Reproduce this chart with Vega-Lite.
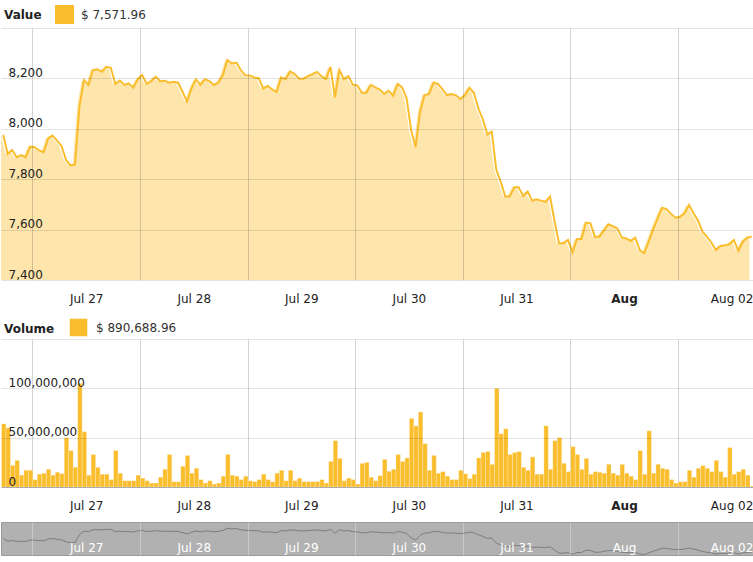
{
  "$schema": "https://vega.github.io/schema/vega-lite/v6.json",
  "padding": {"left": 0, "top": 5, "right": 0, "bottom": 0},
  "background": "white",
  "config": {
    "font": "DejaVu Sans",
    "view": {"stroke": null},
    "axis": {"labelFont": "DejaVu Sans", "labelFontSize": 12, "labelColor": "#222", "title": null},
    "legend": {"labelFont": "DejaVu Sans", "titleFont": "DejaVu Sans"}
  },
  "data": {"values": [
    {"t":"2018-07-26T17:00Z","p":7975,"v":64000000},
    {"t":"2018-07-26T18:00Z","p":7900,"v":60000000},
    {"t":"2018-07-26T19:00Z","p":7916,"v":22000000},
    {"t":"2018-07-26T20:00Z","p":7887,"v":27000000},
    {"t":"2018-07-26T21:00Z","p":7896,"v":12000000},
    {"t":"2018-07-26T22:00Z","p":7887,"v":17000000},
    {"t":"2018-07-26T23:00Z","p":7929,"v":17000000},
    {"t":"2018-07-27T00:00Z","p":7927,"v":7500000},
    {"t":"2018-07-27T01:00Z","p":7914,"v":13000000},
    {"t":"2018-07-27T02:00Z","p":7907,"v":14000000},
    {"t":"2018-07-27T03:00Z","p":7962,"v":18000000},
    {"t":"2018-07-27T04:00Z","p":7973,"v":12000000},
    {"t":"2018-07-27T05:00Z","p":7953,"v":15000000},
    {"t":"2018-07-27T06:00Z","p":7932,"v":13500000},
    {"t":"2018-07-27T07:00Z","p":7877,"v":50000000},
    {"t":"2018-07-27T08:00Z","p":7855,"v":37000000},
    {"t":"2018-07-27T09:00Z","p":7858,"v":20000000},
    {"t":"2018-07-27T10:00Z","p":8088,"v":105000000},
    {"t":"2018-07-27T11:00Z","p":8193,"v":56000000},
    {"t":"2018-07-27T12:00Z","p":8174,"v":12000000},
    {"t":"2018-07-27T13:00Z","p":8233,"v":33000000},
    {"t":"2018-07-27T14:00Z","p":8236,"v":20000000},
    {"t":"2018-07-27T15:00Z","p":8226,"v":13000000},
    {"t":"2018-07-27T16:00Z","p":8246,"v":13000000},
    {"t":"2018-07-27T17:00Z","p":8242,"v":7500000},
    {"t":"2018-07-27T18:00Z","p":8178,"v":37000000},
    {"t":"2018-07-27T19:00Z","p":8191,"v":14000000},
    {"t":"2018-07-27T20:00Z","p":8174,"v":6400000},
    {"t":"2018-07-27T21:00Z","p":8180,"v":6400000},
    {"t":"2018-07-27T22:00Z","p":8163,"v":6400000},
    {"t":"2018-07-27T23:00Z","p":8196,"v":12000000},
    {"t":"2018-07-28T00:00Z","p":8213,"v":9000000},
    {"t":"2018-07-28T01:00Z","p":8178,"v":6400000},
    {"t":"2018-07-28T02:00Z","p":8189,"v":4000000},
    {"t":"2018-07-28T03:00Z","p":8207,"v":4000000},
    {"t":"2018-07-28T04:00Z","p":8189,"v":10000000},
    {"t":"2018-07-28T05:00Z","p":8191,"v":18000000},
    {"t":"2018-07-28T06:00Z","p":8183,"v":33000000},
    {"t":"2018-07-28T07:00Z","p":8187,"v":5400000},
    {"t":"2018-07-28T08:00Z","p":8183,"v":5400000},
    {"t":"2018-07-28T09:00Z","p":8147,"v":21000000},
    {"t":"2018-07-28T10:00Z","p":8108,"v":32000000},
    {"t":"2018-07-28T11:00Z","p":8160,"v":14000000},
    {"t":"2018-07-28T12:00Z","p":8196,"v":19000000},
    {"t":"2018-07-28T13:00Z","p":8174,"v":7500000},
    {"t":"2018-07-28T14:00Z","p":8197,"v":4000000},
    {"t":"2018-07-28T15:00Z","p":8189,"v":6400000},
    {"t":"2018-07-28T16:00Z","p":8174,"v":3000000},
    {"t":"2018-07-28T17:00Z","p":8183,"v":4000000},
    {"t":"2018-07-28T18:00Z","p":8213,"v":11000000},
    {"t":"2018-07-28T19:00Z","p":8273,"v":33000000},
    {"t":"2018-07-28T20:00Z","p":8259,"v":12000000},
    {"t":"2018-07-28T21:00Z","p":8263,"v":11000000},
    {"t":"2018-07-28T22:00Z","p":8233,"v":7500000},
    {"t":"2018-07-28T23:00Z","p":8213,"v":11000000},
    {"t":"2018-07-29T00:00Z","p":8212,"v":6400000},
    {"t":"2018-07-29T01:00Z","p":8204,"v":5400000},
    {"t":"2018-07-29T02:00Z","p":8201,"v":7500000},
    {"t":"2018-07-29T03:00Z","p":8160,"v":13000000},
    {"t":"2018-07-29T04:00Z","p":8170,"v":7500000},
    {"t":"2018-07-29T05:00Z","p":8156,"v":5400000},
    {"t":"2018-07-29T06:00Z","p":8146,"v":14000000},
    {"t":"2018-07-29T07:00Z","p":8204,"v":17000000},
    {"t":"2018-07-29T08:00Z","p":8197,"v":6400000},
    {"t":"2018-07-29T09:00Z","p":8228,"v":17000000},
    {"t":"2018-07-29T10:00Z","p":8217,"v":6400000},
    {"t":"2018-07-29T11:00Z","p":8200,"v":9000000},
    {"t":"2018-07-29T12:00Z","p":8199,"v":5400000},
    {"t":"2018-07-29T13:00Z","p":8209,"v":5400000},
    {"t":"2018-07-29T14:00Z","p":8217,"v":5400000},
    {"t":"2018-07-29T15:00Z","p":8226,"v":5400000},
    {"t":"2018-07-29T16:00Z","p":8209,"v":7500000},
    {"t":"2018-07-29T17:00Z","p":8197,"v":4000000},
    {"t":"2018-07-29T18:00Z","p":8246,"v":26000000},
    {"t":"2018-07-29T19:00Z","p":8125,"v":47000000},
    {"t":"2018-07-29T20:00Z","p":8233,"v":29000000},
    {"t":"2018-07-29T21:00Z","p":8197,"v":6400000},
    {"t":"2018-07-29T22:00Z","p":8209,"v":9000000},
    {"t":"2018-07-29T23:00Z","p":8175,"v":7500000},
    {"t":"2018-07-30T00:00Z","p":8172,"v":3000000},
    {"t":"2018-07-30T01:00Z","p":8143,"v":24000000},
    {"t":"2018-07-30T02:00Z","p":8143,"v":25000000},
    {"t":"2018-07-30T03:00Z","p":8174,"v":10000000},
    {"t":"2018-07-30T04:00Z","p":8164,"v":6400000},
    {"t":"2018-07-30T05:00Z","p":8156,"v":11500000},
    {"t":"2018-07-30T06:00Z","p":8138,"v":28000000},
    {"t":"2018-07-30T07:00Z","p":8151,"v":16000000},
    {"t":"2018-07-30T08:00Z","p":8131,"v":18000000},
    {"t":"2018-07-30T09:00Z","p":8178,"v":33000000},
    {"t":"2018-07-30T10:00Z","p":8164,"v":26000000},
    {"t":"2018-07-30T11:00Z","p":8121,"v":29500000},
    {"t":"2018-07-30T12:00Z","p":7995,"v":69500000},
    {"t":"2018-07-30T13:00Z","p":7927,"v":62000000},
    {"t":"2018-07-30T14:00Z","p":8068,"v":76000000},
    {"t":"2018-07-30T15:00Z","p":8134,"v":44000000},
    {"t":"2018-07-30T16:00Z","p":8138,"v":17000000},
    {"t":"2018-07-30T17:00Z","p":8184,"v":32000000},
    {"t":"2018-07-30T18:00Z","p":8178,"v":14000000},
    {"t":"2018-07-30T19:00Z","p":8156,"v":15600000},
    {"t":"2018-07-30T20:00Z","p":8134,"v":11000000},
    {"t":"2018-07-30T21:00Z","p":8138,"v":7500000},
    {"t":"2018-07-30T22:00Z","p":8133,"v":7500000},
    {"t":"2018-07-30T23:00Z","p":8118,"v":17000000},
    {"t":"2018-07-31T00:00Z","p":8133,"v":13500000},
    {"t":"2018-07-31T01:00Z","p":8163,"v":8500000},
    {"t":"2018-07-31T02:00Z","p":8143,"v":13000000},
    {"t":"2018-07-31T03:00Z","p":8081,"v":29500000},
    {"t":"2018-07-31T04:00Z","p":8038,"v":35000000},
    {"t":"2018-07-31T05:00Z","p":7978,"v":36000000},
    {"t":"2018-07-31T06:00Z","p":7989,"v":23000000},
    {"t":"2018-07-31T07:00Z","p":7837,"v":100000000},
    {"t":"2018-07-31T08:00Z","p":7790,"v":54000000},
    {"t":"2018-07-31T09:00Z","p":7731,"v":59000000},
    {"t":"2018-07-31T10:00Z","p":7731,"v":33000000},
    {"t":"2018-07-31T11:00Z","p":7768,"v":35000000},
    {"t":"2018-07-31T12:00Z","p":7768,"v":36000000},
    {"t":"2018-07-31T13:00Z","p":7733,"v":20000000},
    {"t":"2018-07-31T14:00Z","p":7751,"v":17000000},
    {"t":"2018-07-31T15:00Z","p":7715,"v":30500000},
    {"t":"2018-07-31T16:00Z","p":7720,"v":13000000},
    {"t":"2018-07-31T17:00Z","p":7715,"v":13000000},
    {"t":"2018-07-31T18:00Z","p":7710,"v":62000000},
    {"t":"2018-07-31T19:00Z","p":7731,"v":18000000},
    {"t":"2018-07-31T20:00Z","p":7632,"v":47000000},
    {"t":"2018-07-31T21:00Z","p":7546,"v":50000000},
    {"t":"2018-07-31T22:00Z","p":7546,"v":24000000},
    {"t":"2018-07-31T23:00Z","p":7559,"v":15600000},
    {"t":"2018-08-01T00:00Z","p":7509,"v":41000000},
    {"t":"2018-08-01T01:00Z","p":7563,"v":33000000},
    {"t":"2018-08-01T02:00Z","p":7563,"v":18000000},
    {"t":"2018-08-01T03:00Z","p":7628,"v":29000000},
    {"t":"2018-08-01T04:00Z","p":7625,"v":13000000},
    {"t":"2018-08-01T05:00Z","p":7572,"v":15600000},
    {"t":"2018-08-01T06:00Z","p":7572,"v":15000000},
    {"t":"2018-08-01T07:00Z","p":7596,"v":14000000},
    {"t":"2018-08-01T08:00Z","p":7621,"v":23000000},
    {"t":"2018-08-01T09:00Z","p":7614,"v":14000000},
    {"t":"2018-08-01T10:00Z","p":7604,"v":12000000},
    {"t":"2018-08-01T11:00Z","p":7569,"v":23000000},
    {"t":"2018-08-01T12:00Z","p":7565,"v":14000000},
    {"t":"2018-08-01T13:00Z","p":7555,"v":11000000},
    {"t":"2018-08-01T14:00Z","p":7568,"v":7500000},
    {"t":"2018-08-01T15:00Z","p":7519,"v":37000000},
    {"t":"2018-08-01T16:00Z","p":7506,"v":13000000},
    {"t":"2018-08-01T17:00Z","p":7552,"v":57000000},
    {"t":"2018-08-01T18:00Z","p":7601,"v":14000000},
    {"t":"2018-08-01T19:00Z","p":7645,"v":23000000},
    {"t":"2018-08-01T20:00Z","p":7687,"v":19000000},
    {"t":"2018-08-01T21:00Z","p":7681,"v":18000000},
    {"t":"2018-08-01T22:00Z","p":7662,"v":7500000},
    {"t":"2018-08-01T23:00Z","p":7647,"v":4000000},
    {"t":"2018-08-02T00:00Z","p":7651,"v":5400000},
    {"t":"2018-08-02T01:00Z","p":7665,"v":5400000},
    {"t":"2018-08-02T02:00Z","p":7698,"v":17000000},
    {"t":"2018-08-02T03:00Z","p":7665,"v":10000000},
    {"t":"2018-08-02T04:00Z","p":7636,"v":19000000},
    {"t":"2018-08-02T05:00Z","p":7592,"v":21700000},
    {"t":"2018-08-02T06:00Z","p":7572,"v":19000000},
    {"t":"2018-08-02T07:00Z","p":7548,"v":15600000},
    {"t":"2018-08-02T08:00Z","p":7519,"v":27000000},
    {"t":"2018-08-02T09:00Z","p":7535,"v":15600000},
    {"t":"2018-08-02T10:00Z","p":7538,"v":10000000},
    {"t":"2018-08-02T11:00Z","p":7542,"v":40000000},
    {"t":"2018-08-02T12:00Z","p":7559,"v":13000000},
    {"t":"2018-08-02T13:00Z","p":7516,"v":15600000},
    {"t":"2018-08-02T14:00Z","p":7552,"v":18000000},
    {"t":"2018-08-02T15:00Z","p":7569,"v":12000000},
    {"t":"2018-08-02T16:00Z","p":7571.96,"v":890688.96}
  ]},
  "spacing": 59,
  "bounds": "flush",
  "resolve": {"scale": {"color": "independent", "x": "independent", "y": "independent"}, "legend": {"color": "independent"}},
  "vconcat": [
    {
      "width": 753,
      "height": 252,
      "layer": [
        {
          "mark": {"type": "area", "fillOpacity": 0.4, "clip": true},
          "encoding": {
            "x": {"field": "t", "type": "temporal", "timeUnit": "utcyearmonthdatehours", "bandPosition": 0.5,
              "scale": {"type": "utc", "domain": [{"year": 2018, "month": "jul", "date": 26, "hours": 17, "utc": true}, {"year": 2018, "month": "aug", "date": 2, "hours": 17, "utc": true}]},
              "axis": {"title": null, "domain": false, "ticks": false, "tickCount": {"interval": "day", "step": 1},
                "labelExpr": "utcdate(datum.value) == 1 ? utcFormat(datum.value, '%b') : utcFormat(datum.value, '%b %d')",
                "labelFontWeight": {"condition": {"test": "utcdate(datum.value) == 1", "value": "bold"}, "value": "normal"},
                "labelOffset": 53.8, "labelPadding": 22.5, "labelBaseline": "alphabetic", "labelFlush": false, "labelOverlap": false,
                "gridColor": "#000", "gridOpacity": 0.17, "zindex": 1}},
            "y": {"field": "p", "type": "quantitative", "scale": {"domain": [7400, 8400], "zero": false, "nice": false},
              "axis": {"title": null, "values": [7400, 7600, 7800, 8000, 8200, 8400], "labelExpr": "datum.value >= 8400 ? '' : format(datum.value, ',')",
                "domain": false, "ticks": false, "labelAlign": "left", "labelBaseline": "alphabetic", "labelPadding": -7, "labelOffset": -2, "labelFlush": false,
                "gridColor": "#000", "gridOpacity": 0.11, "zindex": 1}},
            "color": {"datum": "$ 7,571.96", "type": "nominal", "scale": {"range": ["#fabd2c"]},
              "legend": {"orient": "none", "legendX": 3, "legendY": -23, "title": "Value", "titleOrient": "left", "titleFontWeight": "bold", "titleFontSize": 12, "titleColor": "#222", "titlePadding": 13,
                "labelFontSize": 12, "labelColor": "#333", "symbolType": "square", "symbolSize": 361, "labelOffset": 7, "direction": "horizontal",
                "encode": {"symbols": {"update": {"fillOpacity": {"value": 1}, "opacity": {"value": 1}, "strokeWidth": {"value": 0}}}}}}
          }
        },
        {
          "mark": {"type": "line", "color": "#fabd2c", "strokeWidth": 2, "clip": true},
          "encoding": {
            "x": {"field": "t", "type": "temporal", "timeUnit": "utcyearmonthdatehours", "bandPosition": 0.5},
            "y": {"field": "p", "type": "quantitative"}
          }
        }
      ]
    },
    {
      "spacing": 35,
      "bounds": "flush",
      "resolve": {"scale": {"color": "independent", "x": "independent", "y": "independent"}, "legend": {"color": "independent"}},
      "vconcat": [
        {
          "width": 753,
          "height": 148,
          "mark": {"type": "bar", "binSpacing": 0, "stroke": "#fff", "strokeWidth": 0.6, "strokeOpacity": 0.45, "clip": true},
          "encoding": {
            "x": {"field": "t", "type": "temporal", "timeUnit": "utcyearmonthdatehours",
              "scale": {"type": "utc", "domain": [{"year": 2018, "month": "jul", "date": 26, "hours": 17, "utc": true}, {"year": 2018, "month": "aug", "date": 2, "hours": 17, "utc": true}]},
              "axis": {"title": null, "domain": true, "domainColor": "#000", "domainOpacity": 0.25, "ticks": false, "tickCount": {"interval": "day", "step": 1},
                "labelExpr": "utcdate(datum.value) == 1 ? utcFormat(datum.value, '%b') : utcFormat(datum.value, '%b %d')",
                "labelFontWeight": {"condition": {"test": "utcdate(datum.value) == 1", "value": "bold"}, "value": "normal"},
                "labelOffset": 53.8, "labelPadding": 22.5, "labelBaseline": "alphabetic", "labelFlush": false, "labelOverlap": false,
                "gridColor": "#000", "gridOpacity": 0.17}},
            "y": {"field": "v", "type": "quantitative", "scale": {"domain": [0, 150000000], "nice": false},
              "axis": {"title": null, "values": [0, 50000000, 100000000, 150000000], "labelExpr": "datum.value >= 150000000 ? '' : format(datum.value, ',')",
                "domain": false, "ticks": false, "labelAlign": "left", "labelBaseline": "alphabetic", "labelPadding": -7, "labelOffset": -2, "labelFlush": false,
                "gridColor": "#000", "gridOpacity": 0.1, "zindex": 1}},
            "color": {"datum": "$ 890,688.96", "type": "nominal", "scale": {"range": ["#fabd2c"]},
              "legend": {"orient": "none", "legendX": 3, "legendY": -22, "title": "Volume", "titleOrient": "left", "titleFontWeight": "bold", "titleFontSize": 12, "titleColor": "#222", "titlePadding": 13,
                "labelFontSize": 12, "labelColor": "#333", "symbolType": "square", "symbolSize": 361, "labelOffset": 7, "direction": "horizontal",
                "encode": {"symbols": {"update": {"fillOpacity": {"value": 1}, "opacity": {"value": 1}, "strokeWidth": {"value": 0}}}}}}
          }
        },
        {
          "width": 753,
          "height": 33,
          "view": {"fill": "#b1b1b1", "stroke": "#9c9c9c"},
          "mark": {"type": "line", "color": "#7d7d7d", "strokeWidth": 1, "clip": true},
          "encoding": {
            "x": {"field": "t", "type": "temporal", "timeUnit": "utcyearmonthdatehours", "bandPosition": 0.5,
              "scale": {"type": "utc", "domain": [{"year": 2018, "month": "jul", "date": 26, "hours": 17, "utc": true}, {"year": 2018, "month": "aug", "date": 2, "hours": 17, "utc": true}]},
              "axis": {"title": null, "domain": false, "ticks": false, "tickCount": {"interval": "day", "step": 1},
                "labelExpr": "utcdate(datum.value) == 1 ? utcFormat(datum.value, '%b') : utcFormat(datum.value, '%b %d')",
                "labelOffset": 53.8, "labelPadding": -4, "labelBaseline": "alphabetic", "labelFlush": false, "labelOverlap": false,
                "labelColor": "#fff", "gridColor": "#fff", "gridOpacity": 0.3, "zindex": 1}},
            "y": {"field": "p", "type": "quantitative", "scale": {"domain": [7490, 8460], "zero": false, "nice": false}, "axis": null}
          }
        }
      ]
    }
  ]
}
